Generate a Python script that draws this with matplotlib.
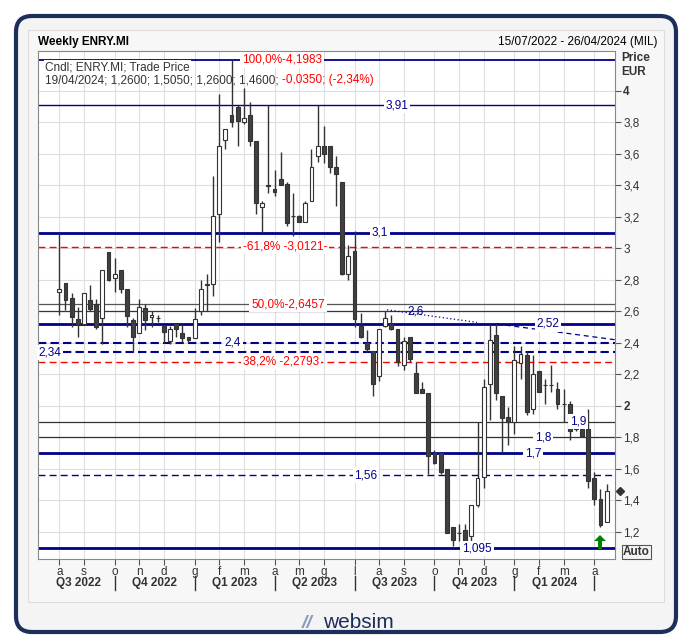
import matplotlib
matplotlib.use("Agg")
import matplotlib.pyplot as plt
from matplotlib.patches import FancyBboxPatch, Rectangle
import numpy as np

plt.rcParams['font.family'] = ['Liberation Sans', 'DejaVu Sans']

opens = [2.721,2.778,2.683,2.55,2.52,2.672,2.65,2.56,2.975,2.81,2.86,2.74,2.545,2.46,2.62,2.562,2.56,2.51,2.41,2.52,
         2.46,2.44,2.43,2.60,2.77,2.775,3.22,3.69,3.85,3.90,3.80,3.85,3.68,3.26,3.40,3.38,3.44,3.41,3.205,3.205,
         3.17,3.30,3.59,3.65,3.65,3.52,3.42,2.84,2.985,2.51,2.40,2.35,2.19,2.51,2.52,2.49,2.26,2.44,2.21,2.11,
         2.08,1.70,1.70,1.60,1.23,1.19,1.21,1.17,1.37,1.55,2.14,2.45,2.06,1.93,1.90,2.27,2.32,1.98,2.22,2.13,
         2.13,2.11,2.01,2.01,1.88,1.85,1.85,1.54,1.41,1.26]
highs = [3.096,2.78,2.715,2.63,2.715,2.77,2.68,2.86,2.975,2.94,2.86,2.74,2.56,2.68,2.65,2.60,2.575,2.51,2.51,2.52,
         2.52,2.44,2.62,2.80,2.84,3.46,3.98,3.76,4.198,3.91,4.02,3.93,3.68,3.30,3.91,3.50,3.61,3.42,3.35,3.21,
         3.30,3.63,3.91,3.78,3.65,3.59,3.42,3.02,3.11,2.59,2.48,2.35,2.49,2.60,2.58,2.49,2.44,2.44,2.28,2.15,
         2.08,1.72,1.70,1.60,1.23,1.25,1.25,1.37,1.90,2.17,2.52,2.52,2.06,1.99,2.38,2.38,2.35,2.32,2.22,2.17,
         2.26,2.15,2.11,2.03,1.88,1.87,1.98,1.58,1.47,1.505]
lows = [2.577,2.609,2.503,2.44,2.52,2.60,2.49,2.39,2.79,2.72,2.715,2.50,2.34,2.46,2.48,2.50,2.53,2.40,2.39,2.44,
        2.40,2.40,2.43,2.58,2.60,2.70,3.04,3.63,3.77,3.65,3.79,3.65,3.22,3.10,3.35,3.33,3.40,3.14,3.08,3.17,
        3.17,3.30,3.55,3.54,3.48,3.27,2.83,2.80,2.50,2.43,2.34,2.06,2.16,2.50,2.48,2.25,2.23,2.28,2.08,2.08,
        1.57,1.63,1.57,1.19,1.11,1.14,1.12,1.13,1.36,1.48,1.91,2.04,1.70,1.75,1.82,2.17,1.94,1.95,2.09,2.01,
        2.09,1.98,1.90,1.78,1.84,1.80,1.48,1.37,1.23,1.26]
closes = [2.74,2.672,2.566,2.52,2.715,2.613,2.50,2.86,2.80,2.84,2.74,2.57,2.44,2.63,2.545,2.575,2.56,2.47,2.49,2.49,
          2.43,2.42,2.55,2.74,2.775,3.205,3.65,3.76,3.80,3.81,3.83,3.68,3.29,3.29,3.395,3.36,3.40,3.16,3.205,3.17,
          3.29,3.52,3.65,3.60,3.52,3.47,2.84,2.95,2.55,2.435,2.36,2.14,2.49,2.56,2.49,2.28,2.41,2.30,2.08,2.08,
          1.68,1.64,1.58,1.19,1.15,1.19,1.13,1.37,1.54,2.12,2.42,2.08,1.92,1.90,2.29,2.33,1.96,2.20,2.09,2.13,
          2.13,2.01,2.01,1.84,1.85,1.81,1.52,1.41,1.24,1.46]

month_labels = ["a","s","o","n","d","g","f","m","a","m","g","l","a","s","o","n","d","g","f","m","a"]
month_pos = [0,4,9,13,17,22,26,30,35,39,43,48,52,56,61,65,69,74,78,82,87]
quarter_labels = ["Q3 2022","Q4 2022","Q1 2023","Q2 2023","Q3 2023","Q4 2023","Q1 2024"]
quarter_sep = [9,22,35,48,61,74,87]
quarter_start = [0,9,22,35,48,61,74]

FS = 8.5
W, H = 693, 638
fig = plt.figure(figsize=(W/100, H/100), dpi=100)
fig.patch.set_facecolor("white")
bg = fig.add_axes([0, 0, 1, 1]); bg.set_xlim(0, W); bg.set_ylim(H, 0); bg.axis("off")
bg.add_patch(FancyBboxPatch((16, 16), W-33, H-22, boxstyle="round,pad=0,rounding_size=16",
                            fc="#f4f4f4", ec="#1c2e5a", lw=3))
bg.add_patch(Rectangle((28, 30), 636, 572, fc="#f7f7f7", ec="#dddddd", lw=0.8))
bg.text(38, 42, "Weekly ENRY.MI", fontsize=FS, fontweight="bold", va="center")
bg.text(657, 42, "15/07/2022 - 26/04/2024 (MIL)", fontsize=FS, va="center", ha="right")
bg.text(621, 58, "Price", fontsize=FS, fontweight="bold", va="center", color="#333333")
bg.text(621, 72, "EUR", fontsize=FS, fontweight="bold", va="center", color="#333333")
bg.text(623, 552, "Auto", fontsize=FS, fontweight="bold", va="center", color="#333333",
        bbox=dict(boxstyle="square,pad=0.1", fc="#f4f4f4", ec="#555555", lw=0.8))
bg.text(358, 623, "websim", fontsize=15, va="center", ha="center", color="#1c2e5a")
bg.text(307, 623, "//", fontsize=14, va="center", ha="center", color="#8a9bbf", fontstyle="italic", fontweight="bold")

ax = fig.add_axes([38/W, 1-559/H, (615-38)/W, (559-51)/H])
x0, dx = 59.3, 6.15
ax.set_xlim((38-x0)/dx, (615-x0)/dx)
ax.set_ylim(1.027, 4.254)
ax.set_facecolor("white")
for s in ax.spines.values():
    s.set_color("#888888"); s.set_linewidth(0.8)
ax.yaxis.tick_right()
yt = np.round(np.arange(1.2, 4.01, 0.2), 1)
ax.set_yticks(yt)
ax.set_yticklabels([("%g" % v).replace(".", ",") for v in yt], fontsize=FS, color="#333333")
for lab, v in zip(ax.get_yticklabels(), yt):
    if v in (2.0, 4.0):
        lab.set_fontweight("bold")
ax.tick_params(axis="y", length=4, color="#555555", pad=2)
ax.set_xticks(month_pos)
ax.set_xticklabels(month_labels, fontsize=FS, color="#333333")
ax.tick_params(axis="x", length=4, color="#555555", pad=1)
ax.grid(True, color="#dddddd", lw=0.8)
ax.set_axisbelow(True)

idx = np.arange(len(opens))
o = np.array(opens); c = np.array(closes)
ax.vlines(idx, lows, highs, color="#333333", lw=1, zorder=3)
up = c >= o
ax.bar(idx[up], c[up]-o[up], bottom=o[up], width=0.62, color="white", edgecolor="#333333", lw=0.8, zorder=4)
ax.bar(idx[~up], o[~up]-c[~up], bottom=c[~up], width=0.62, color="#404040", edgecolor="#333333", lw=0.8, zorder=4)

navy = "#00008b"
def px2i(px): return (px-x0)/dx
def py2p(py): return 4-(py-91)/157.4
def hline(y, lw, ls="-", color=navy, label=None, lx=None, lc=navy):
    ax.axhline(y, color=color, lw=lw, ls=ls, zorder=2)
    if label:
        ax.text(px2i(lx), y, label, color=lc, fontsize=FS, ha="center", va="center", zorder=5,
                bbox=dict(boxstyle="square,pad=0.15", fc="white", ec="none"))
hline(4.1983, 1.3, label="100,0%-4,1983", lx=282, lc="red")
hline(3.91, 1.0, label="3,91", lx=397)
hline(3.1, 2.0, label="3,1", lx=380)
hline(3.0121, 1.0, ls=(0, (5, 3)), color="red", label="-61,8% -3,0121-", lx=285, lc="red")
hline(2.6457, 0.9, color="#555555")
ax.text(px2i(288), 2.6457, "50,0%-2,6457", color="red", fontsize=FS, ha="center", va="center",
        bbox=dict(boxstyle="square,pad=0.15", fc="white", ec="none"), zorder=5)
hline(2.6, 0.9, color="#333355")
hline(2.52, 2.0, label="2,52", lx=548)
hline(2.4, 1.5, ls=(0, (4, 2)), label="2,4", lx=233)
hline(2.34, 1.5, ls=(0, (4, 2)), label="2,34", lx=50)
hline(2.2793, 1.0, ls=(0, (5, 3)), color="red", label="38,2% -2,2793", lx=281, lc="red")
hline(1.9, 0.9, color="#333333", label="1,9", lx=578)
hline(1.8, 0.9, color="#333333", label="1,8", lx=543)
hline(1.7, 2.0, label="1,7", lx=533)
hline(1.56, 1.0, ls=(0, (5, 3)), label="1,56", lx=366)
hline(1.095, 2.0, label="1,095", lx=477)
ax.text(px2i(416), 2.6, "2,6", color=navy, fontsize=FS, ha="center", va="center", zorder=5)
ax.plot([px2i(387), px2i(477)], [2.61, 2.53], color=navy, lw=0.9, ls=(0, (1, 2)), zorder=2)
ax.plot([px2i(497), px2i(615)], [2.52, 2.42], color=navy, lw=0.9, ls=(0, (4, 3)), zorder=2)
ax.plot([px2i(620)], [1.46], marker="D", ms=4, color="#333333", clip_on=False)

arrow_px = [(600, 535), (606, 541), (602, 541), (602, 549), (598, 549), (598, 541), (594, 541)]
ax.add_patch(plt.Polygon([(px2i(a), py2p(b)) for a, b in arrow_px], closed=True,
                         fc="#008000", ec="none", zorder=10))

ax.text(px2i(45), 4.254-(67-51)/157.4, "Cndl; ENRY.MI; Trade Price", fontsize=FS, va="center", color="#333333",
        bbox=dict(boxstyle="square,pad=0.1", fc="white", ec="none"), zorder=5)
yline = 4.254-(80-51)/157.4
t = ax.text(px2i(45), yline, "19/04/2024; 1,2600; 1,5050; 1,2600; 1,4600; ", fontsize=FS, va="center",
            color="#333333", zorder=5)
fig.canvas.draw()
ax.annotate("-0,0350; (-2,34%)", xycoords=t, xy=(1, 0.5), va="center", ha="left", fontsize=FS, color="red", zorder=5)

for q in quarter_sep:
    bg.plot([x0+q*dx]*2, [576, 590], color="#333333", lw=1)
for q0, q1, lab in zip(quarter_start, quarter_sep, quarter_labels):
    bg.text(x0+(q0+q1)/2*dx - (8 if q0 == 0 else 0), 583, lab, fontsize=FS, fontweight="bold", ha="center", va="center", color="#333333")

fig.savefig("out.png", dpi=100)
